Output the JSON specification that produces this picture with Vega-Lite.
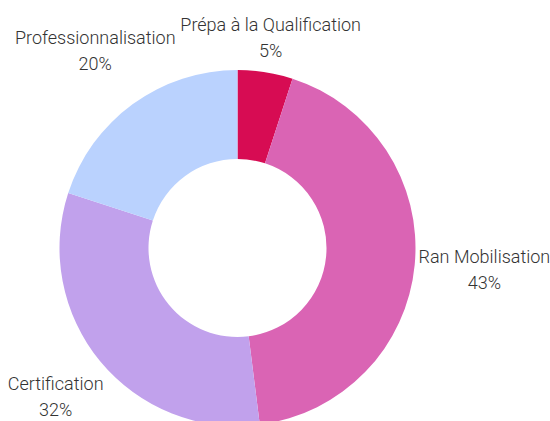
{
  "$schema": "https://vega.github.io/schema/vega-lite/v6.json",
  "autosize": "none",
  "width": 475,
  "height": 352,
  "padding": {"left": 0, "top": 72, "right": 75, "bottom": 0},
  "background": "white",
  "config": {"view": {"stroke": null}, "text": {"font": "Roboto", "fontSize": 18, "fontWeight": 300, "color": "#333333", "lineBreak": "\n", "lineHeight": 26, "align": "center", "baseline": "middle", "dy": -13}},
  "data": {"values": [
    {"idx": 1, "category": "Prépa à la Qualification", "value": 5, "label": "Prépa à la Qualification\n5%"},
    {"idx": 2, "category": "Ran Mobilisation", "value": 43, "label": "Ran Mobilisation\n43%"},
    {"idx": 3, "category": "Certification", "value": 32, "label": "Certification\n32%"},
    {"idx": 4, "category": "Professionnalisation", "value": 20, "label": "Professionnalisation\n20%"}
  ]},
  "encoding": {
    "theta": {"field": "value", "type": "quantitative", "stack": true},
    "order": {"field": "idx", "type": "quantitative"}
  },
  "layer": [
    {
      "mark": {"type": "arc", "outerRadius": 178, "innerRadius": 89},
      "encoding": {
        "color": {"field": "category", "type": "nominal", "legend": null,
          "scale": {"domain": ["Prépa à la Qualification", "Ran Mobilisation", "Certification", "Professionnalisation"],
                    "range": ["#d70c53", "#da64b4", "#c1a1ec", "#bad2fe"]}}
      }
    },
    {
      "mark": {"type": "text", "radius": 212},
      "encoding": {
        "detail": {"field": "category", "type": "nominal"},
        "text": {"condition": {"test": "datum.category === 'Prépa à la Qualification'", "field": "label"}, "value": ""}
      }
    },
    {
      "mark": {"type": "text", "radius": 248},
      "encoding": {
        "detail": {"field": "category", "type": "nominal"},
        "text": {"condition": {"test": "datum.category === 'Ran Mobilisation'", "field": "label"}, "value": ""}
      }
    },
    {
      "mark": {"type": "text", "radius": 236},
      "encoding": {
        "detail": {"field": "category", "type": "nominal"},
        "text": {"condition": {"test": "datum.category === 'Certification'", "field": "label"}, "value": ""}
      }
    },
    {
      "mark": {"type": "text", "radius": 242},
      "encoding": {
        "detail": {"field": "category", "type": "nominal"},
        "text": {"condition": {"test": "datum.category === 'Professionnalisation'", "field": "label"}, "value": ""}
      }
    }
  ]
}
